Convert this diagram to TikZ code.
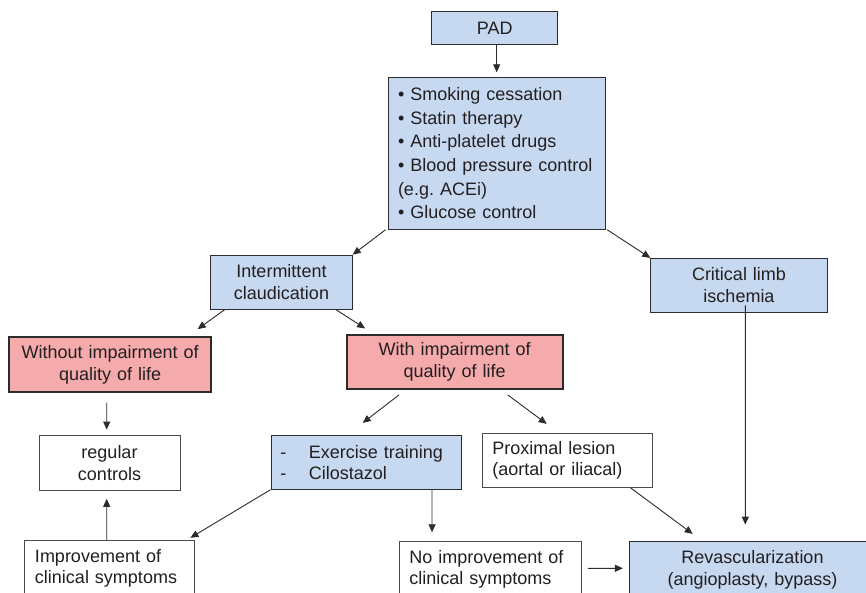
\documentclass[tikz,border=0pt]{standalone}
\usepackage{fontspec}
\setmainfont{Liberation Sans}
\usetikzlibrary{arrows.meta}
\definecolor{bluef}{HTML}{C6D9F1}
\definecolor{pinkf}{HTML}{F5AAAC}
\definecolor{txt}{HTML}{231F20}
\definecolor{edge}{HTML}{2B2B2B}
\newcommand{\fsz}{\fontsize{18bp}{21.7bp}\selectfont}
\newcommand{\fsl}{\fontsize{18bp}{23.6bp}\selectfont}
\newcommand{\dsh}{\makebox[28.5bp][l]{-}}
\frenchspacing
\begin{document}
\begin{tikzpicture}[x=1bp,y=-1bp,
 base/.style={rectangle, font=\fsz, text=txt, inner ysep=0pt, inner xsep=0pt, align=center},
 bluebox/.style={base, fill=bluef, draw=edge, line width=0.8bp},
 pinkbox/.style={base, fill=pinkf, draw=edge, line width=1.8bp},
 whitebox/.style={base, fill=white, draw=edge!85, line width=0.9bp},
 arr/.style={draw=edge, line width=0.9bp, -{Triangle[length=8bp,width=7bp]}}
]
\fill[white] (0,0) rectangle (866,593);
\clip (0,0) rectangle (866,593);

\node[bluebox, minimum width=126bp, minimum height=32.3bp, text width=126bp] (pad) at (494.7,27.9) {PAD};
\node[bluebox, font=\fsl, align=left, inner xsep=9.7bp, text width=198bp, minimum width=217.4bp, minimum height=152bp] (list) at (497,153.3)
 {• Smoking cessation\\ • Statin therapy\\ • Anti-platelet drugs\\ • Blood pressure control\\ (e.g.\ ACEi)\\ • Glucose control};
\node[bluebox, minimum width=141.6bp, minimum height=54.3bp, text width=141.6bp] (inter) at (281.5,282.2) {Intermittent\\ claudication};
\node[bluebox, minimum width=176.6bp, minimum height=54bp, text width=176.6bp] (crit) at (739,285.3) {Critical limb\\ ischemia};
\node[pinkbox, minimum width=201.7bp, minimum height=54.4bp, text width=201.7bp] (without) at (110.2,364.5) {Without impairment of\\ quality of life};
\node[pinkbox, minimum width=216bp, minimum height=54bp, text width=216bp] (with) at (454.7,362) {With impairment of\\ quality of life};
\node[whitebox, minimum width=141bp, minimum height=54.3bp, text width=141bp] (regular) at (109.5,462.9) {regular\\ controls};
\node[bluebox, align=left, inner xsep=9.5bp, text width=171.7bp, minimum width=190.7bp, minimum height=53.6bp] (exer) at (366.3,462.5) {\dsh Exercise training\\ \dsh Cilostazol};
\node[whitebox, align=left, inner xsep=10bp, text width=150.4bp, minimum width=170.4bp, minimum height=54bp] (prox) at (567.5,460.3) {Proximal lesion\\ (aortal or iliacal)};
\node[whitebox, align=left, inner xsep=10.7bp, text width=148.6bp, minimum width=170bp, minimum height=55.3bp] (impr) at (109.3,568.3) {Improvement of\\ clinical symptoms};
\node[whitebox, align=left, inner xsep=10.3bp, text width=162.1bp, minimum width=182.7bp, minimum height=55bp] (noimp) at (490.35,569.2) {No improvement of\\ clinical symptoms};
\node[bluebox, minimum width=246.4bp, minimum height=55.6bp, text width=246.4bp] (revasc) at (752.5,569.5) {Revascularization\\ (angioplasty, bypass)};

\draw[arr] ([xshift=2bp]pad.south) -- ([xshift=2bp,yshift=4.6bp]pad.south |- list.north);
\draw[arr] ([xshift=-2.3bp]list.south west) -- (inter.north east);
\draw[arr] ([xshift=1bp]list.south east) -- (crit.north west);
\draw[arr] ([xshift=14.3bp]inter.south west) -- ([xshift=-14.3bp,yshift=7.3bp]without.north east);
\draw[arr] ([xshift=-16.6bp]inter.south east) -- ([xshift=19.3bp,yshift=5.7bp]with.north west);
\draw[arr] ([xshift=-3.5bp,yshift=-10bp]without.south) -- ([xshift=-2.8bp,yshift=5.7bp]regular.north);
\draw[arr] ([xshift=-2.6bp]impr.north) -- ([xshift=-2.8bp,yshift=-8.3bp]regular.south);
\draw[arr] ([xshift=-55.7bp,yshift=-5bp]with.south) -- ([xshift=-3.6bp,yshift=12.4bp]exer.north);
\draw[arr] ([xshift=53bp,yshift=-5bp]with.south) -- ([xshift=-20.8bp,yshift=9bp]prox.north);
\draw[arr] (exer.south west) -- ([xshift=-4.3bp,yshift=2.4bp]impr.north east);
\draw[arr] ([xshift=65.7bp]exer.south) -- ([xshift=-58.3bp,yshift=9bp]noimp.north);
\draw[arr] ([xshift=5.6bp,yshift=0.9bp]noimp.east) -- ([xshift=-6bp,yshift=1.2bp]revasc.west);
\draw[arr] ([xshift=-22.7bp]prox.south east) -- ([xshift=-59.8bp,yshift=7.4bp]revasc.north);
\draw[arr] ([xshift=6.3bp,yshift=7.3bp]crit.south) -- ([xshift=-7.2bp,yshift=16.7bp]revasc.north);
\end{tikzpicture}
\end{document}
